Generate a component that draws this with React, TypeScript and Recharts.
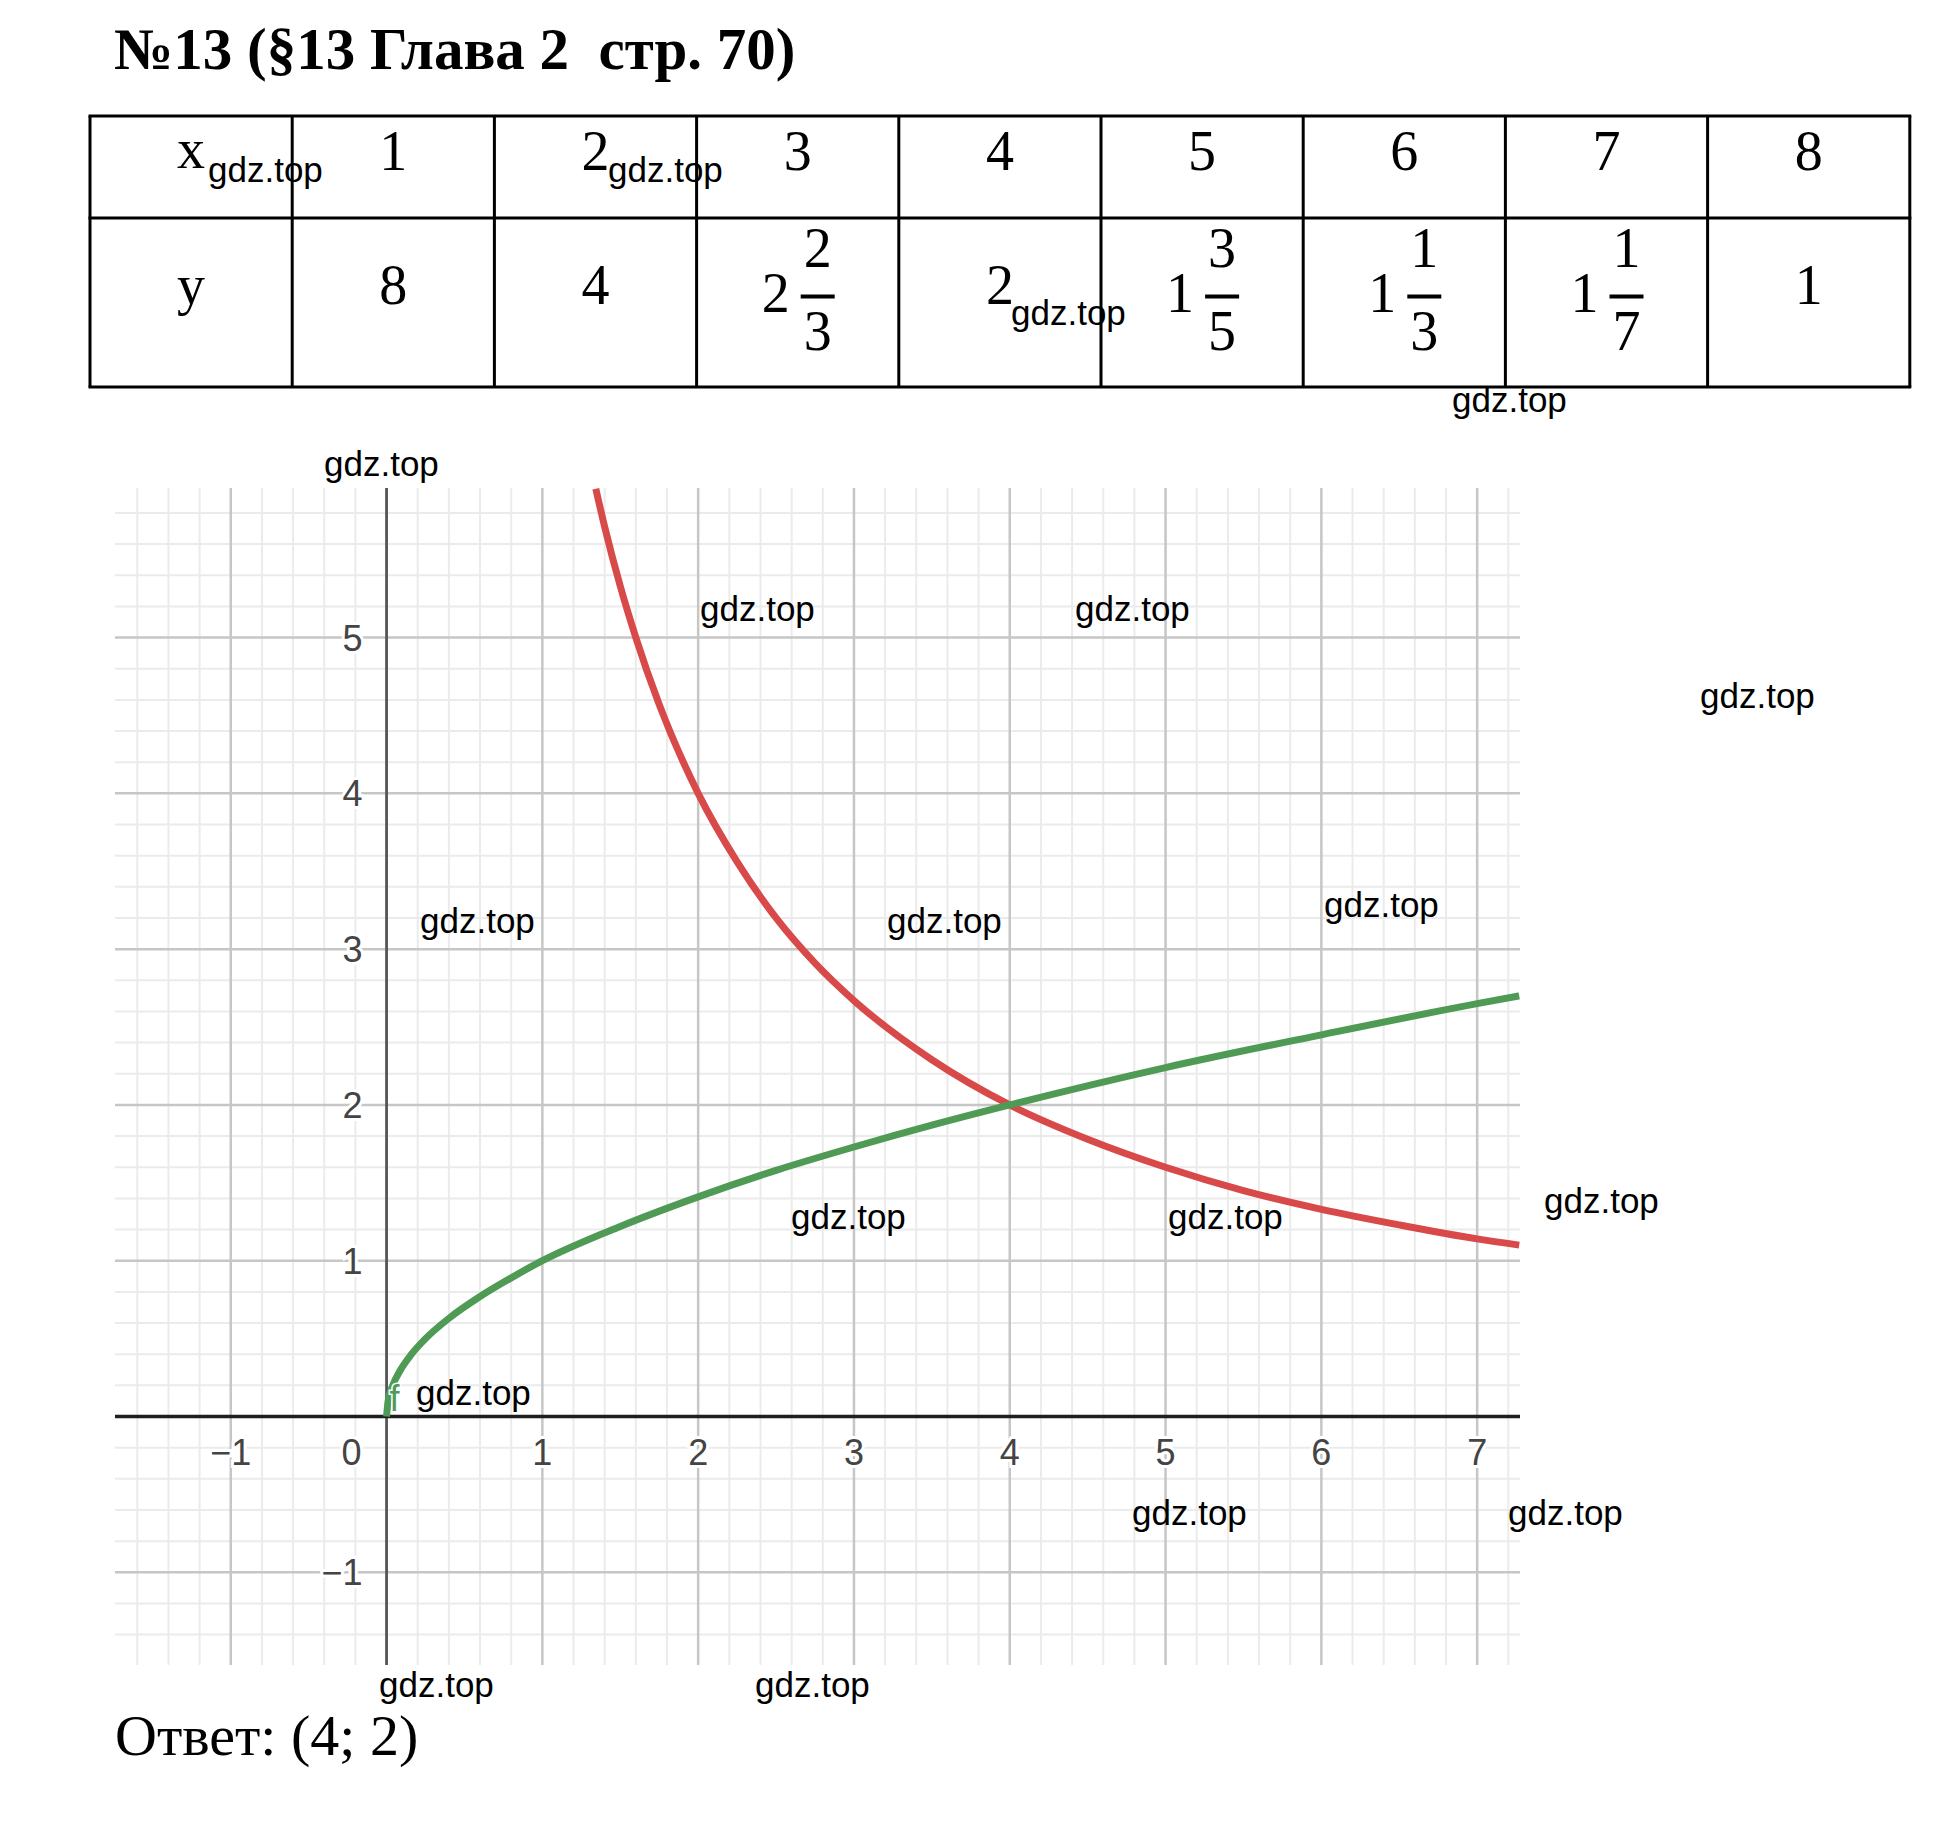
import React from 'react'
import { LineChart, Line, XAxis, YAxis, ReferenceLine, ReferenceDot } from 'recharts'

// table of values for y = 8/x
const tableX = ['1', '2', '3', '4', '5', '6', '7', '8']
const tableWhole = ['8', '4', '2', '2', '1', '1', '1', '1']
const tableNum = ['', '', '2', '', '3', '1', '1', '']
const tableDen = ['', '', '3', '', '5', '3', '7', '']

// red curve (hyperbola)
const hyperbolaPts = [
  { x: 1.343, y: 5.955 },
  { x: 1.4, y: 5.71 },
  { x: 1.5, y: 5.33 },
  { x: 1.6, y: 5.0 },
  { x: 1.75, y: 4.57 },
  { x: 2, y: 4 },
  { x: 2.25, y: 3.56 },
  { x: 2.5, y: 3.2 },
  { x: 2.75, y: 2.91 },
  { x: 3, y: 2.67 },
  { x: 3.5, y: 2.29 },
  { x: 4, y: 2 },
  { x: 4.5, y: 1.78 },
  { x: 5, y: 1.6 },
  { x: 5.5, y: 1.45 },
  { x: 6, y: 1.33 },
  { x: 6.5, y: 1.23 },
  { x: 7, y: 1.14 },
  { x: 7.27, y: 1.1 },
]

// green curve (root)
const rootPts = [
  { x: 0, y: 0 },
  { x: 0.01, y: 0.1 },
  { x: 0.04, y: 0.2 },
  { x: 0.09, y: 0.3 },
  { x: 0.16, y: 0.4 },
  { x: 0.25, y: 0.5 },
  { x: 0.4, y: 0.63 },
  { x: 0.6, y: 0.77 },
  { x: 0.8, y: 0.89 },
  { x: 1, y: 1 },
  { x: 1.5, y: 1.22 },
  { x: 2, y: 1.41 },
  { x: 2.5, y: 1.58 },
  { x: 3, y: 1.73 },
  { x: 3.5, y: 1.87 },
  { x: 4, y: 2 },
  { x: 5, y: 2.24 },
  { x: 6, y: 2.45 },
  { x: 7, y: 2.65 },
  { x: 7.27, y: 2.7 },
]

const xTicks = [-1, 1, 2, 3, 4, 5, 6, 7]
const yTicks = [-1, 1, 2, 3, 4, 5]
const xMajor = [-1, 1, 2, 3, 4, 5, 6, 7]
const yMajor = [-1, 1, 2, 3, 4, 5]

const X_DOMAIN: [number, number] = [-1.743, 7.275]
const Y_DOMAIN: [number, number] = [-1.595, 5.96]

const xMinor: number[] = []
for (let i = -8; i <= 36; i++) if (i % 5 !== 0) xMinor.push(i / 5)
const yMinor: number[] = []
for (let i = -7; i <= 29; i++) if (i % 5 !== 0) yMinor.push(i / 5)

// watermark spots: left x, baseline y
const marks = [
  [208, 182], [608, 182], [1011, 325], [1452, 412], [324, 476],
  [700, 621], [1075, 621], [1700, 708], [420, 933], [887, 933],
  [1324, 917], [791, 1229], [1168, 1229], [1544, 1213], [416, 1405],
  [1132, 1525], [1508, 1525], [379, 1697], [755, 1697],
]

const serif = '"Liberation Serif", "Times New Roman", serif'
const sans = '"Liberation Sans", Arial, sans-serif'
const RED = '#d84a4a'
const GREEN = '#4f9b55'
const tickStyle = { fontFamily: sans, fontSize: 36, fill: '#444', stroke: '#fff', strokeWidth: 6, paintOrder: 'stroke' as const }

const colW = 202.2
const tLeft = 90
const rows = [116, 218, 387]

function Table() {
  const cells = []
  for (let i = 0; i < 9; i++) {
    const cx = tLeft + colW * i + colW / 2
    if (i === 0) {
      cells.push(<text key="hx" x={cx} y={168} textAnchor="middle">x</text>)
      cells.push(<text key="hy" x={cx} y={304} textAnchor="middle">y</text>)
      continue
    }
    const k = i - 1
    cells.push(<text key={'x' + k} x={cx} y={170} textAnchor="middle">{tableX[k]}</text>)
    if (tableNum[k]) {
      cells.push(<text key={'w' + k} x={cx - 22} y={312} textAnchor="middle">{tableWhole[k]}</text>)
      cells.push(<text key={'n' + k} x={cx + 20} y={267} textAnchor="middle">{tableNum[k]}</text>)
      cells.push(<line key={'b' + k} x1={cx + 3} x2={cx + 37} y1={296.5} y2={296.5} stroke="#000" strokeWidth={4} />)
      cells.push(<text key={'d' + k} x={cx + 20} y={350} textAnchor="middle">{tableDen[k]}</text>)
    } else {
      cells.push(<text key={'w' + k} x={cx} y={304} textAnchor="middle">{tableWhole[k]}</text>)
    }
  }
  const right = tLeft + colW * 9
  return (
    <g fontFamily={serif} fontSize={56} fill="#000">
      {rows.map((y) => (
        <line key={'r' + y} x1={tLeft - 1.5} x2={right + 1.5} y1={y} y2={y} stroke="#000" strokeWidth={3} />
      ))}
      {Array.from({ length: 10 }, (_, i) => (
        <line key={'c' + i} x1={tLeft + colW * i} x2={tLeft + colW * i} y1={rows[0]} y2={rows[2]} stroke="#000" strokeWidth={3} />
      ))}
      {cells}
    </g>
  )
}

export default function App() {
  return (
    <div style={{ position: 'absolute', left: 0, top: 0, width: 1938, height: 1846, background: '#fff', overflow: 'hidden' }}>
      <div style={{ position: 'absolute', left: 100, top: 470 }}>
        <LineChart width={1440} height={1215} margin={{ top: 18, left: 15, right: 20, bottom: 20 }}>
          <XAxis type="number" dataKey="x" domain={X_DOMAIN} allowDataOverflow hide />
          <YAxis type="number" dataKey="y" domain={Y_DOMAIN} allowDataOverflow hide />
          {xMinor.map((v) => (
            <ReferenceLine key={'xm' + v} x={v} stroke="#ebebeb" strokeWidth={2} ifOverflow="hidden" />
          ))}
          {yMinor.map((v) => (
            <ReferenceLine key={'ym' + v} y={v} stroke="#ebebeb" strokeWidth={2} ifOverflow="hidden" />
          ))}
          {xMajor.map((v) => (
            <ReferenceLine key={'xM' + v} x={v} stroke="#c6c6c6" strokeWidth={2.5} ifOverflow="hidden" />
          ))}
          {yMajor.map((v) => (
            <ReferenceLine key={'yM' + v} y={v} stroke="#c6c6c6" strokeWidth={2.5} ifOverflow="hidden" />
          ))}
          <ReferenceLine x={0} stroke="#555" strokeWidth={2.8} />
          <ReferenceLine y={0} stroke="#1f1f1f" strokeWidth={3.5} />
          {xTicks.map((v) => (
            <ReferenceDot key={'xt' + v} x={v} y={0} r={0}
              shape={(p: any) => <text x={p.cx} y={p.cy + 48} textAnchor="middle" {...tickStyle}>{v < 0 ? '−' + Math.abs(v) : String(v)}</text>} />
          ))}
          <ReferenceDot x={0} y={0} r={0}
            shape={(p: any) => <text x={p.cx - 35} y={p.cy + 48} textAnchor="middle" {...tickStyle}>0</text>} />
          {yTicks.map((v) => (
            <ReferenceDot key={'yt' + v} x={0} y={v} r={0}
              shape={(p: any) => <text x={p.cx - 24} y={p.cy + 13} textAnchor="end" {...tickStyle}>{v < 0 ? '−' + Math.abs(v) : String(v)}</text>} />
          ))}
          <Line data={hyperbolaPts} dataKey="y" type="monotone" stroke={RED} strokeWidth={7} dot={false} isAnimationActive={false} />
          <Line data={rootPts} dataKey="y" type="monotone" stroke={GREEN} strokeWidth={7} dot={false} isAnimationActive={false} />
          <ReferenceDot x={0} y={0} r={0}
            shape={(p: any) => <text x={p.cx + 8} y={p.cy - 6} textAnchor="middle" fontFamily={sans} fontSize={36} fill={GREEN} stroke="#fff" strokeWidth={3} paintOrder="stroke">f</text>} />
        </LineChart>
      </div>
      <svg width={1938} height={1846} style={{ position: 'absolute', left: 0, top: 0, pointerEvents: 'none' }}>
        <text x={114} y={69} fontFamily={serif} fontWeight="bold" fontSize={59} fill="#000" xmlSpace="preserve" style={{ whiteSpace: 'pre' }}>
          №13 (§13 Глава 2  стр. 70)
        </text>
        <Table />
        <text x={115} y={1755} fontFamily={serif} fontSize={58} fill="#000">Ответ: (4; 2)</text>
        {marks.map(([x, y], i) => (
          <text key={'m' + i} x={x} y={y} fontFamily={sans} fontSize={35} fill="#000">gdz.top</text>
        ))}
      </svg>
    </div>
  )
}
